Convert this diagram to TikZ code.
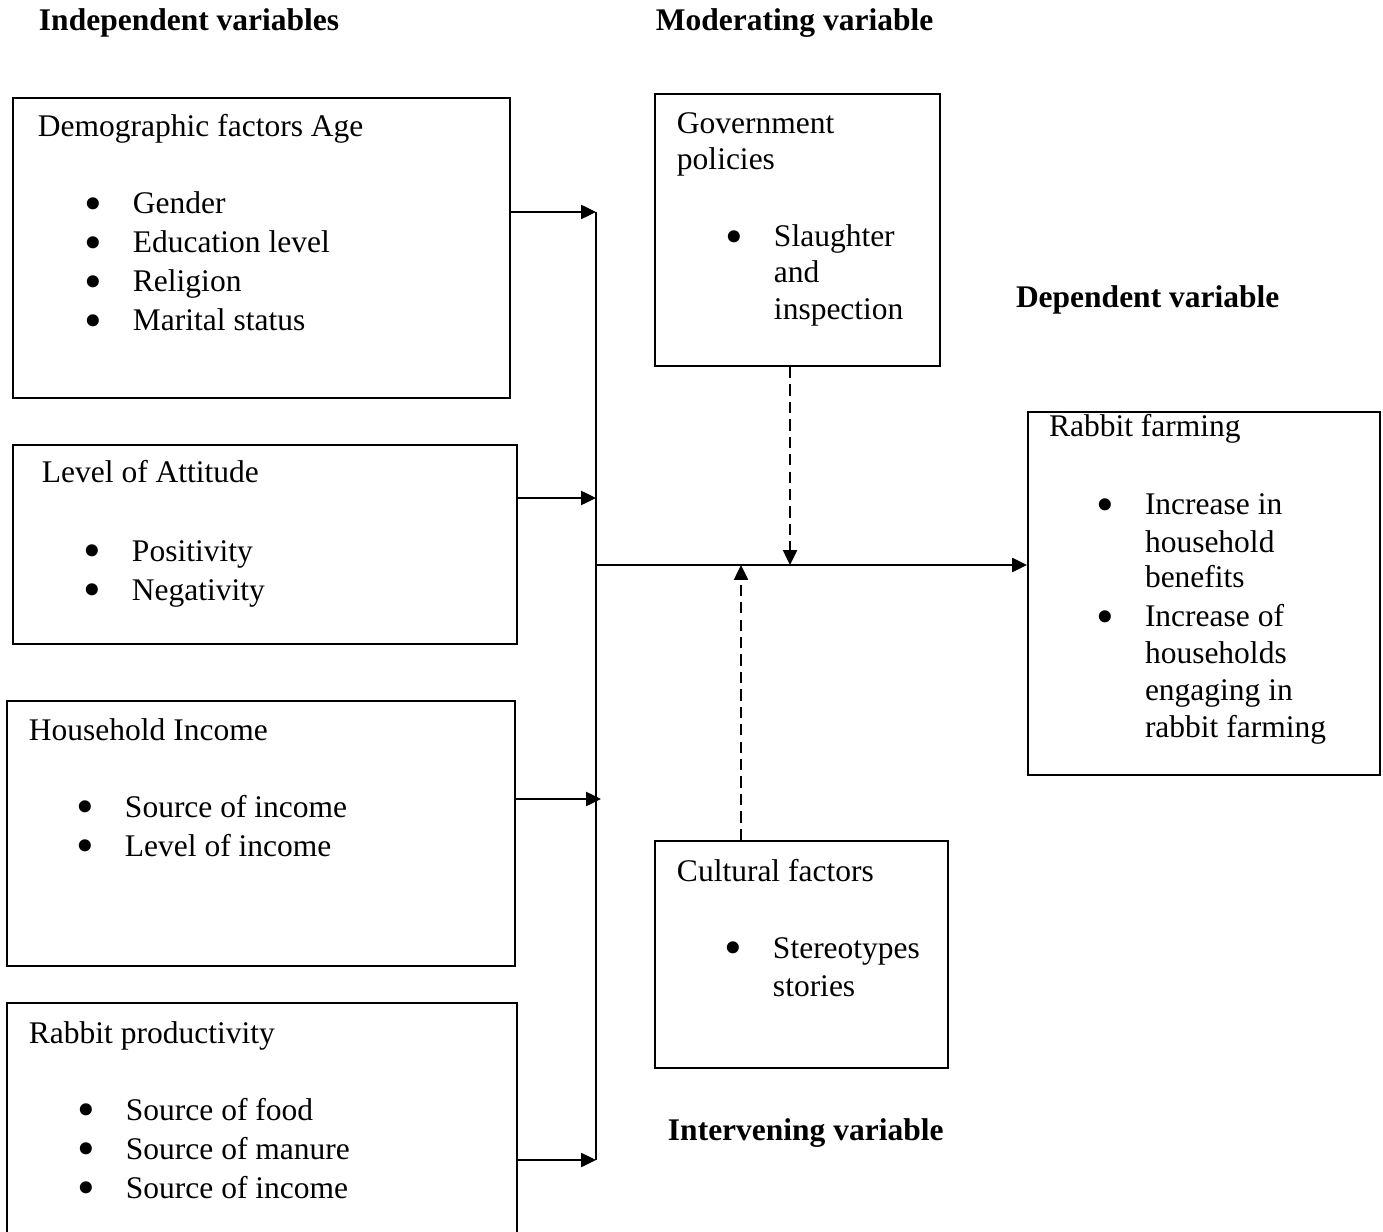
\documentclass[tikz,border=0pt]{standalone}
\usepackage{fontspec}
\setmainfont{Liberation Serif}
\usetikzlibrary{arrows.meta,fit}
\newcommand{\bul}{\llap{\smash{\raisebox{-2.4pt}{\scalebox{1.6}{\textbullet}}}\hspace{11.1pt}}}

\begin{document}
\begin{tikzpicture}[x=0.0125cm, y=-0.0125cm, line width=0.7pt,
	>={Triangle[length=5.3pt,width=5pt]}]

	\tikzstyle{box}=[draw, rectangle, inner sep=0pt]
	\tikzstyle{txt}=[anchor=base west, inner sep=0pt, font=\fontsize{11.2}{13.8}\selectfont]
	\tikzstyle{head}=[txt, font=\fontsize{11.2}{13.8}\selectfont\bfseries]
	\tikzstyle{link}=[->]
	\tikzstyle{mod}=[->, dash pattern=on 4pt off 2.2pt]

	\useasboundingbox (0,0) rectangle (1383,1232);
	\clip (0,0) rectangle (1383,1232);

	% headings
	\node[head] (hInd) at (38,31) {Independent variables};
	\node[head] (hMod) at (655,31) {Moderating variable};
	\node[head] (hDep) at (1015,308) {Dependent variable};
	\node[head] (hInt) at (667,1140) {Intervening variable};

	% independent variables
	\node[box, fit={(13,98) (510,398)}] (demo) {};
	\node[txt] (demoT) at (37,137) {Demographic factors Age};
	\node[txt] (demo1) at (132,214) {\bul Gender};
	\node[txt] (demo2) at (132,253) {\bul Education level};
	\node[txt] (demo3) at (132,292) {\bul Religion};
	\node[txt] (demo4) at (132,331) {\bul Marital status};

	\node[box, fit={(13,445) (517,644)}] (att) {};
	\node[txt] (attT) at (41,483) {Level of Attitude};
	\node[txt] (att1) at (131,561) {\bul Positivity};
	\node[txt] (att2) at (131,600) {\bul Negativity};

	\node[box, fit={(7,701) (515,966)}] (inc) {};
	\node[txt] (incT) at (28,740) {Household Income};
	\node[txt] (inc1) at (124,817) {\bul Source of income};
	\node[txt] (inc2) at (124,856) {\bul Level of income};

	\node[box, fit={(7,1003) (517,1260)}] (prod) {};
	\node[txt] (prodT) at (28,1043) {Rabbit productivity};
	\node[txt] (prod1) at (125,1120) {\bul Source of food};
	\node[txt] (prod2) at (125,1159) {\bul Source of manure};
	\node[txt] (prod3) at (125,1198) {\bul Source of income};

	% moderating variable
	\node[box, fit={(655,94) (940,366)}] (gov) {};
	\node[txt] (govT1) at (676,134) {Government};
	\node[txt] (govT2) at (676,170) {policies};
	\node[txt] (gov1) at (773,247) {\bul Slaughter};
	\node[txt] (gov2) at (773,283) {and};
	\node[txt] (gov3) at (773,320) {inspection};

	% dependent variable
	\node[box, fit={(1028,412) (1380,775)}] (farm) {};
	\node[txt] (farmT) at (1048,437) {Rabbit farming};
	\node[txt] (farm1) at (1144,515) {\bul Increase in};
	\node[txt] (farm2) at (1144,552) {household};
	\node[txt] (farm3) at (1144,588) {benefits};
	\node[txt] (farm4) at (1144,627) {\bul Increase of};
	\node[txt] (farm5) at (1144,663) {households};
	\node[txt] (farm6) at (1144,700) {engaging in};
	\node[txt] (farm7) at (1144,737) {rabbit farming};

	% intervening variable
	\node[box, fit={(655,841) (948,1068)}] (cult) {};
	\node[txt] (cultT) at (676,881) {Cultural factors};
	\node[txt] (cult1) at (772,958) {\bul Stereotypes};
	\node[txt] (cult2) at (772,996) {stories};

	% junctions
	\coordinate (j1) at (596,212);
	\coordinate (j2) at (596,498);
	\coordinate (j3) at (601,799);
	\coordinate (j4) at (596,1160);
	\coordinate (mid) at (596,565);
	\coordinate (m1) at (790,565);
	\coordinate (m2) at (741,565);

	% from the independent variables
	\draw (j1) -- (j4);
	\draw[link] (demo.east |- j1) -- (j1);
	\draw[link] (att.east |- j2) -- (j2);
	\draw[link] (inc.east |- j3) -- (j3);
	\draw[link] (prod.east |- j4) -- (j4);

	% to the dependent variable
	\draw[link] (mid) -- (farm.west |- mid);

	% moderating and intervening
	\draw[mod] (gov.south -| m1) -- (m1);
	\draw[mod] (cult.north -| m2) -- (m2);

\end{tikzpicture}
\end{document}
